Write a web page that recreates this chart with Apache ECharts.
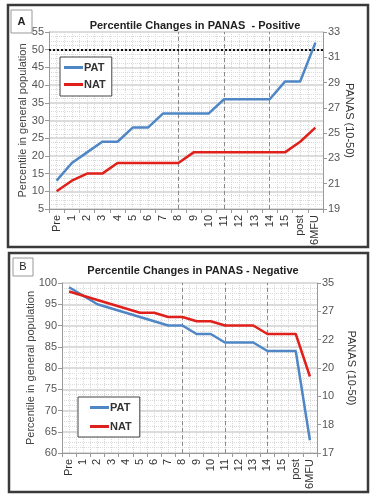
<!DOCTYPE html>
<html>
<head>
<meta charset="utf-8">
<script src="https://cdn.jsdelivr.net/npm/echarts@6/dist/echarts.min.js"></script>
<style>
  html, body { margin: 0; padding: 0; background: #fff; }
  #main { width: 377px; height: 500px; }
</style>
</head>
<body>
<div id="main"></div>
<script>
// PANAS percentile charts (A positive, B negative)

var categories = ['Pre', '1', '2', '3', '4', '5', '6', '7', '8', '9', '10', '11', '12', '13', '14', '15', 'post', '6MFU'];

// panel A - positive
var patA = [13, 18, 21, 24, 24, 28, 28, 32, 32, 32, 32, 36, 36, 36, 36, 41, 41, 52];
var natA = [10, 13, 15, 15, 18, 18, 18, 18, 18, 21, 21, 21, 21, 21, 21, 21, 24, 28];

// panel B - negative
var patB = [99, 97, 95, 94, 93, 92, 91, 90, 90, 88, 88, 86, 86, 86, 84, 84, 84, 63];
var natB = [98, 97, 96, 95, 94, 93, 93, 92, 92, 91, 91, 90, 90, 90, 88, 88, 88, 78];

// right axis tick labels in B (as printed)
var rightLabelsB = ['17', '18', '10', '20', '22', '27', '35'];

var phaseLines = ['8', '11', '14'];

var FONT = 'Liberation Sans';
var BLUE = '#4f86c6';
var RED = '#e0201b';

var dom = document.getElementById('main');
var myChart = echarts.init(dom);

function catAxis(grid) {
    return {
        type: 'category',
        gridIndex: grid,
        data: categories,
        boundaryGap: true,
        axisLine: { lineStyle: { color: '#999' } },
        axisTick: { show: true, length: 4, lineStyle: { color: '#999' } },
        axisLabel: { rotate: 90, fontFamily: FONT, fontSize: 11, color: '#333', margin: 6, interval: 0 },
        splitLine: { show: false }
    };
}

// hidden value axis used only for the dense vertical grid
function gridAxis(grid) {
    return {
        type: 'value',
        gridIndex: grid,
        min: 0,
        max: 36,
        interval: 1,
        show: true,
        axisLine: { show: false },
        axisTick: { show: false },
        axisLabel: { show: false },
        splitLine: { show: true, lineStyle: { color: '#d8d8d8', type: [1, 1], width: 1 } }
    };
}

function leftAxis(grid, min, max, gap) {
    return {
        type: 'value',
        gridIndex: grid,
        min: min,
        max: max,
        interval: 5,
        position: 'left',
        name: 'Percentile in general population',
        nameLocation: 'middle',
        nameRotate: 90,
        nameGap: gap,
        nameMoveOverlap: false,
        nameTextStyle: { fontFamily: FONT, fontSize: 11, color: '#444' },
        axisLine: { show: true, lineStyle: { color: '#999' } },
        axisTick: { show: true, length: 4, lineStyle: { color: '#999' } },
        axisLabel: { fontFamily: FONT, fontSize: 11, color: '#555', margin: 5 },
        splitLine: { show: true, lineStyle: { color: '#d0d0d0', width: 1.5 } },
        minorTick: { show: false, splitNumber: 4 },
        minorSplitLine: { show: true, lineStyle: { color: '#dadada', type: [1, 1] } }
    };
}

function rightAxis(grid, opts, gap) {
    return Object.assign({
        type: 'value',
        gridIndex: grid,
        position: 'right',
        name: 'PANAS (10-50)',
        nameLocation: 'middle',
        nameRotate: -90,
        nameGap: gap,
        nameMoveOverlap: false,
        nameTextStyle: { fontFamily: FONT, fontSize: 11, color: '#333' },
        axisLine: { show: true, lineStyle: { color: '#999' } },
        axisTick: { show: true, length: 4, lineStyle: { color: '#999' } },
        axisLabel: { fontFamily: FONT, fontSize: 11, color: '#555', margin: 5 },
        splitLine: { show: false }
    }, opts);
}

function phaseMarks(withLine50) {
    var data = phaseLines.map(function (c) {
        return { xAxis: c, lineStyle: { color: '#8a8a8a', type: [4, 3], width: 1 } };
    });
    if (withLine50) {
        data.push({ yAxis: 50, lineStyle: { color: '#111', type: [2, 2], width: 2 } });
    }
    return { silent: true, symbol: 'none', label: { show: false }, data: data };
}

function lineSeries(name, values, color, xi, yi, mark) {
    var s = {
        name: name,
        type: 'line',
        xAxisIndex: xi,
        yAxisIndex: yi,
        data: values,
        showSymbol: false,
        symbol: 'none',
        color: color,
        lineStyle: { color: color, width: 2.5 },
        z: 5
    };
    if (mark) s.markLine = mark;
    return s;
}

function legendBox(left, top, padding, gap) {
    return {
        orient: 'vertical',
        left: left,
        top: top,
        data: ['PAT', 'NAT'],
        icon: 'rect',
        itemWidth: 19,
        itemHeight: 3,
        itemGap: gap,
        padding: padding,
        backgroundColor: '#fff',
        borderColor: '#444',
        borderWidth: 1,
        selectedMode: false,
        textStyle: { fontFamily: FONT, fontSize: 11, fontWeight: 'bold', color: '#333', padding: [0, 0, 0, -4] }
    };
}

var option = {
    animation: false,
    backgroundColor: '#fff',
    title: [
        {
            text: 'Percentile Changes in PANAS  - Positive',
            left: 190, top: 15, textAlign: 'center',
            textStyle: { fontFamily: FONT, fontSize: 11, fontWeight: 'bold', color: '#222' }
        },
        {
            text: 'Percentile Changes in PANAS - Negative',
            left: 188, top: 260, textAlign: 'center',
            textStyle: { fontFamily: FONT, fontSize: 11, fontWeight: 'bold', color: '#222' }
        }
    ],
    legend: [
        legendBox(60, 57, [5, 6, 6, 4], 6),
        legendBox(78, 397, [5, 8, 5, 12], 8)
    ],
    grid: [
        { left: 49, right: 54, top: 32, height: 177 },
        { left: 62, right: 60, top: 283, height: 170 }
    ],
    xAxis: [catAxis(0), gridAxis(0), catAxis(1), gridAxis(1)],
    yAxis: [
        leftAxis(0, 5, 55, 21),
        rightAxis(0, { min: 19, max: 33, interval: 2 }, 21),
        leftAxis(1, 60, 100, 26),
        rightAxis(1, {
            min: 0, max: 6, interval: 1,
            axisLabel: {
                fontFamily: FONT, fontSize: 11, color: '#555', margin: 5,
                formatter: function (v) { return rightLabelsB[v]; }
            }
        }, 29)
    ],
    graphic: [
        { type: 'rect', shape: { x: 8, y: 5, width: 360, height: 242 }, style: { fill: 'none', stroke: '#3a3a3a', lineWidth: 2.5 }, z: 100 },
        { type: 'rect', shape: { x: 11, y: 10, width: 21, height: 23 }, style: { fill: '#fff', stroke: '#999', lineWidth: 1 }, z: 100 },
        { type: 'text', x: 21.5, y: 21.5, style: { text: 'A', fontFamily: FONT, fontSize: 11, fontWeight: 'bold', fill: '#222', align: 'center', verticalAlign: 'middle' }, z: 101 },
        { type: 'rect', shape: { x: 9, y: 253, width: 359, height: 239 }, style: { fill: 'none', stroke: '#3a3a3a', lineWidth: 2.5 }, z: 100 },
        { type: 'rect', shape: { x: 13, y: 258, width: 20, height: 18 }, style: { fill: '#fff', stroke: '#999', lineWidth: 1 }, z: 100 },
        { type: 'text', x: 23, y: 267, style: { text: 'B', fontFamily: FONT, fontSize: 11, fill: '#222', align: 'center', verticalAlign: 'middle' }, z: 101 }
    ],
    series: [
        lineSeries('PAT', patA, BLUE, 0, 0, phaseMarks(true)),
        lineSeries('NAT', natA, RED, 0, 0),
        lineSeries('PAT', patB, BLUE, 2, 2, phaseMarks(false)),
        lineSeries('NAT', natB, RED, 2, 2)
    ]
};

if (option && typeof option === 'object') {
    myChart.setOption(option);
}
</script>
</body>
</html>
